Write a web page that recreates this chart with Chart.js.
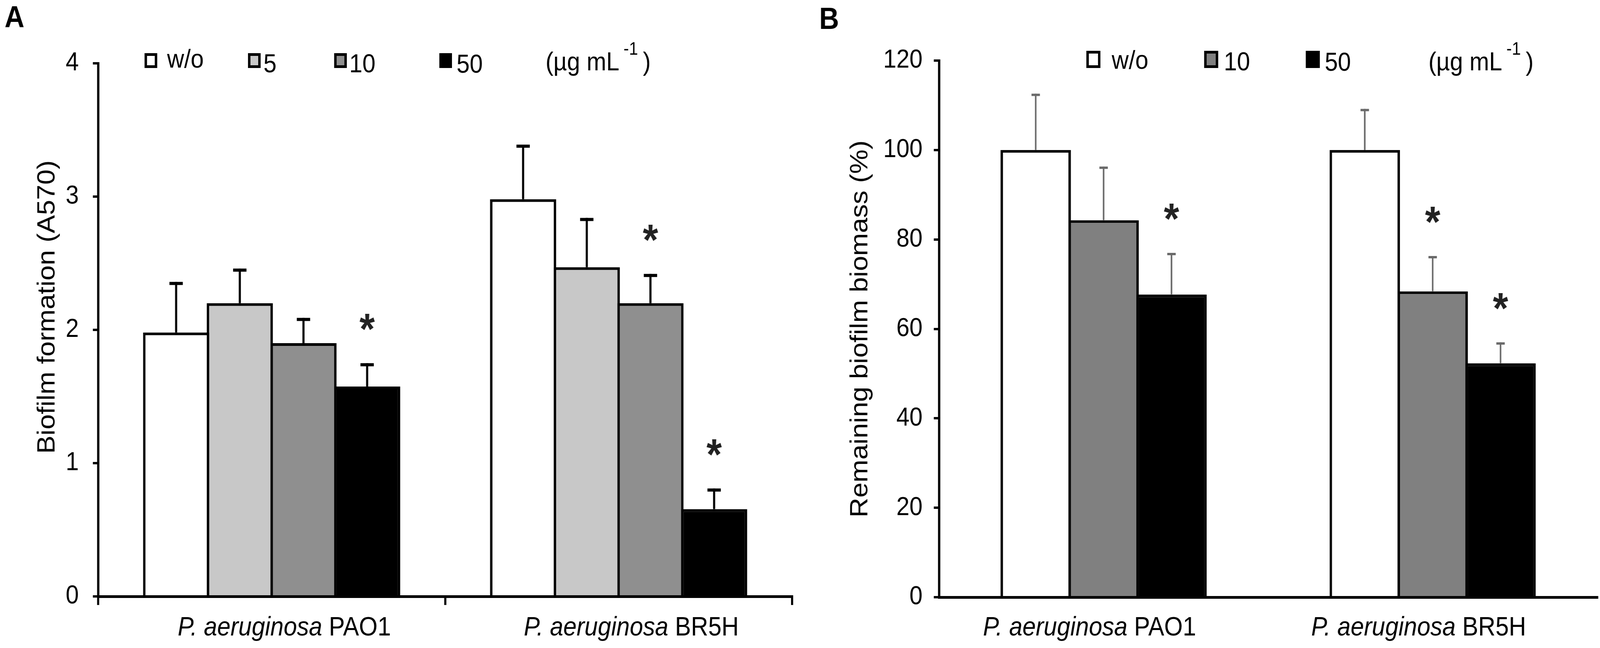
<!DOCTYPE html>
<html>
<head>
<meta charset="utf-8">
<script src="https://cdn.jsdelivr.net/npm/chart.js@4.4.1/dist/chart.umd.min.js"></script>
<style>
html, body { margin: 0; padding: 0; background: #fff; overflow: hidden; }
canvas { position: absolute; top: 0; }
</style>
</head>
<body>
<canvas id="chartA" width="2300" height="1658"></canvas>
<canvas id="chartB" width="2250" height="1658"></canvas>
<script>
var strains = ["P. aeruginosa PAO1", "P. aeruginosa BR5H"];

// panel A - biofilm formation, A570
var dosesA = ["w/o", "5", "10", "50"];
var woA = [1.98, 2.98];
var dose5A = [2.20, 2.47];
var dose10A = [1.90, 2.20];
var dose50A = [1.575, 0.655];
var woErrA = [0.38, 0.41];
var dose5ErrA = [0.26, 0.37];
var dose10ErrA = [0.19, 0.22];
var dose50ErrA = [0.175, 0.155];
var starsA = [[false, false], [false, false], [false, true], [true, true]];
var ticksA = [0, 1, 2, 3, 4];

// panel B - remaining biofilm biomass, %
var dosesB = ["w/o", "10", "50"];
var woB = [100, 100];
var dose10B = [84.3, 68.4];
var dose50B = [67.7, 52.3];
var woErrB = [12.6, 9.2];
var dose10ErrB = [12.0, 7.9];
var dose50ErrB = [9.3, 4.7];
var starsB = [[false, false], [false, true], [true, true]];
var ticksB = [0, 20, 40, 60, 80, 100, 120];

var FONT = "'Liberation Sans', Arial, sans-serif";

// figure is laid out on a 4550 x 1658 sheet; the window may be narrower, so stretch to fill it
var SX = (window.innerWidth || 4550) / 4550;
var SY = (window.innerHeight || 1658) / 1658;
function place(id, left, w) {
    var c = document.getElementById(id);
    c.style.left = (left * SX) + "px";
    c.style.width = (w * SX) + "px";
    c.style.height = (1658 * SY) + "px";
}
place("chartA", 0, 2300);
place("chartB", 2300, 2250);

var extras = {
    id: "extras",
    afterDatasetsDraw: function (chart, args, o) {
        var ctx = chart.ctx;
        var y = chart.scales.y;
        ctx.save();
        chart.data.datasets.forEach(function (ds, i) {
            chart.getDatasetMeta(i).data.forEach(function (bar, j) {
                var top = y.getPixelForValue(ds.data[j] + o.errors[i][j]);
                ctx.strokeStyle = o.errColor;
                ctx.lineWidth = o.errWidth;
                ctx.beginPath();
                ctx.moveTo(bar.x, bar.y);
                ctx.lineTo(bar.x, top);
                ctx.stroke();
                ctx.fillStyle = o.errColor;
                ctx.fillRect(bar.x - o.capHalf, top, o.capHalf * 2, o.capWidth);
                if (o.stars[i][j]) {
                    ctx.font = "bold 112px " + FONT;
                    ctx.fillStyle = "#222";
                    ctx.textAlign = "center";
                    ctx.textBaseline = "alphabetic";
                    var m = ctx.measureText("*");
                    var cy = top - 105;
                    ctx.fillText("*", bar.x, cy + (m.actualBoundingBoxAscent - m.actualBoundingBoxDescent) / 2);
                }
            });
        });
        ctx.restore();
    },
    afterDraw: function (chart, args, o) {
        var ctx = chart.ctx;
        var x = chart.scales.x;
        ctx.save();
        ctx.fillStyle = "#000";
        ctx.textBaseline = "alphabetic";
        ctx.textAlign = "left";
        // category labels, genus in italics
        chart.data.labels.forEach(function (lab, i) {
            var cut = lab.lastIndexOf(" ");
            var it = lab.slice(0, cut + 1), rest = lab.slice(cut + 1);
            ctx.font = "italic 68px " + FONT;
            var w1 = ctx.measureText(it).width;
            ctx.font = "68px " + FONT;
            var w2 = ctx.measureText(rest).width;
            var sx = x.getPixelForValue(i) + o.labelShift - (w1 + w2) / 2;
            ctx.font = "italic 68px " + FONT;
            ctx.fillText(it, sx, 1626);
            ctx.font = "68px " + FONT;
            ctx.fillText(rest, sx + w1, 1626);
        });
        // legend
        var L = o.legend;
        chart.data.datasets.forEach(function (ds, i) {
            var bx = L.boxX[i];
            ctx.fillStyle = ds.backgroundColor;
            ctx.fillRect(bx, L.boxTop, L.boxW, L.boxH);
            ctx.strokeStyle = "#000";
            ctx.lineWidth = 7;
            ctx.strokeRect(bx + 3.5, L.boxTop + 3.5, L.boxW - 7, L.boxH - 7);
            ctx.fillStyle = "#000";
            ctx.font = "67px " + FONT;
            ctx.fillText(ds.label, L.textX[i], L.base[i]);
        });
        ctx.font = "67px " + FONT;
        var ux = L.unitX;
        ctx.fillText("(\u00b5g mL", ux, L.unitBase);
        ux += ctx.measureText("(\u00b5g mL").width + 12;
        ctx.font = "46px " + FONT;
        ctx.fillText("-1", ux, L.unitBase - 40);
        ux += ctx.measureText("-1").width + 14;
        ctx.font = "67px " + FONT;
        ctx.fillText(")", ux, L.unitBase);
        // panel letter
        ctx.font = "bold 78px " + FONT;
        ctx.fillText(o.letter, o.letterX, o.letterY);
        ctx.restore();
    }
};

function makeChart(id, doses, series, colors, yTicks, yTitle, sizes, extraOpts) {
    var datasets = doses.map(function (d, i) {
        return {
            label: d,
            data: series[i],
            backgroundColor: colors[i],
            borderColor: "#000",
            borderWidth: 7,
            categoryPercentage: sizes.cat,
            barPercentage: sizes.bar
        };
    });
    return new Chart(document.getElementById(id), {
        type: "bar",
        data: { labels: strains, datasets: datasets },
        plugins: [extras],
        options: {
            responsive: false,
            devicePixelRatio: 1,
            animation: false,
            layout: { padding: sizes.pad },
            plugins: {
                legend: { display: false },
                tooltip: { enabled: false },
                extras: extraOpts
            },
            scales: {
                x: {
                    ticks: { display: false },
                    grid: {
                        display: sizes.xTicks,
                        offset: true,
                        drawOnChartArea: false,
                        drawTicks: true,
                        tickLength: 22,
                        lineWidth: 6,
                        color: "#000"
                    },
                    border: { display: true, color: "#000", width: 7, z: 1 },
                    afterFit: function (s) { s.height = sizes.xHeight; }
                },
                y: {
                    min: yTicks[0],
                    max: yTicks[yTicks.length - 1],
                    ticks: {
                        stepSize: yTicks[1] - yTicks[0],
                        color: "#000",
                        padding: sizes.tickPad,
                        font: { family: FONT, size: 67 }
                    },
                    grid: {
                        drawOnChartArea: false,
                        drawTicks: true,
                        tickLength: 15,
                        lineWidth: 6,
                        color: "#000"
                    },
                    border: { display: true, color: "#000", width: 6.5 },
                    title: {
                        display: true,
                        text: yTitle,
                        color: "#000",
                        padding: 0,
                        font: { family: FONT, size: 70 }
                    },
                    afterFit: function (s) { s.width = sizes.yWidth; }
                }
            }
        }
    });
}

makeChart("chartA", dosesA, [woA, dose5A, dose10A, dose50A],
    ["#ffffff", "#c8c8c8", "#8f8f8f", "#000000"], ticksA,
    "      Biofilm formation (A570)",
    { cat: 0.734, bar: 1.039, pad: { left: 94, right: 48, top: 162, bottom: 0 },
      xHeight: 132, yWidth: 185, tickPad: 40, xTicks: true },
    {
        errors: [woErrA, dose5ErrA, dose10ErrA, dose50ErrA],
        stars: starsA,
        errColor: "#000", errWidth: 6, capHalf: 19, capWidth: 8,
        labelShift: 36,
        legend: { boxX: [411, 705, 950, 1249], textX: [475, 749, 993, 1298],
                  base: [173, 185, 185, 186], boxTop: 136, boxW: 36, boxH: 38,
                  unitX: 1551, unitBase: 180 },
        letter: "A", letterX: 13, letterY: 70
    });

makeChart("chartB", dosesB, [woB, dose10B, dose50B],
    ["#ffffff", "#808080", "#000000"], ticksB,
    "Remaining biofilm biomass (%)",
    { cat: 0.619, bar: 1.036, pad: { left: 105, right: 8, top: 155, bottom: 0 },
      xHeight: 130, yWidth: 265, tickPad: 32, xTicks: false },
    {
        errors: [woErrB, dose10ErrB, dose50ErrB],
        stars: starsB,
        errColor: "#6a6a6a", errWidth: 4.5, capHalf: 12, capWidth: 6,
        labelShift: -40,
        legend: { boxX: [789, 1124, 1413], textX: [861, 1180, 1467],
                  base: [176, 180, 181], boxTop: 130, boxW: 40, boxH: 44,
                  unitX: 1762, unitBase: 180 },
        letter: "B", letterX: 29, letterY: 74
    });
</script>
</body>
</html>
